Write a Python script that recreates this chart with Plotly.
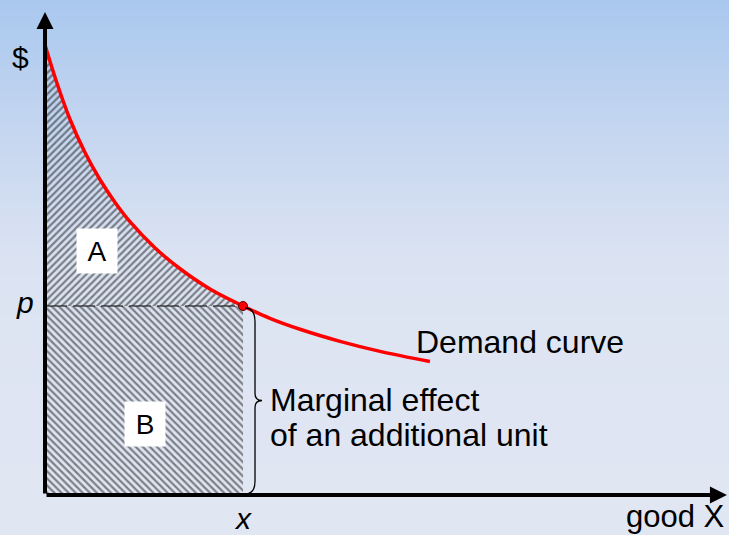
import plotly.graph_objects as go

# ---- data (quantity in units where x = 1, price in units where p = 1) ----
q_demand = [0.000, 0.061, 0.126, 0.202, 0.278, 0.354, 0.429, 0.556, 0.682,
            0.833, 1.000, 1.136, 1.288, 1.490, 1.692, 1.944]
p_demand = [2.381, 2.177, 1.988, 1.812, 1.668, 1.548, 1.446, 1.307, 1.197,
            1.090, 1.000, 0.935, 0.877, 0.813, 0.760, 0.706]
q_x = 1.0          # quantity x
p_price = 1.0      # price p
x_axis_end = 3.444
y_axis_end = 2.556

# axis ranges (origin placed at pixel 45, 495)
X_RANGE = [-0.2273, 3.4545]
Y_RANGE = [-0.2116, 2.6190]
W, H = 729, 535
sx = W / (X_RANGE[1] - X_RANGE[0])   # px per x unit
sy = H / (Y_RANGE[1] - Y_RANGE[0])   # px per y unit

FONT = "Liberation Sans, Arial, sans-serif"

fig = go.Figure()

# ---- area A ----
qa = [q for q in q_demand if q <= q_x]
pa = [p for q, p in zip(q_demand, p_demand) if q <= q_x]
fig.add_trace(go.Scatter(
    x=qa + [q_x, 0.0, 0.0], y=pa + [p_price, p_price, pa[0]],
    mode="lines", line=dict(width=0, color="rgba(0,0,0,0)"),
    fill="toself", fillcolor="rgba(0,0,0,0)",
    fillpattern=dict(shape="/", fgcolor="#1a1a1a", bgcolor="rgba(0,0,0,0)",
                     size=5, solidity=0.45),
    hoverinfo="skip", showlegend=False))

# ---- area B ----
fig.add_trace(go.Scatter(
    x=[0.0, q_x, q_x, 0.0, 0.0], y=[0.0, 0.0, p_price, p_price, 0.0],
    mode="lines", line=dict(width=0, color="rgba(0,0,0,0)"),
    fill="toself", fillcolor="rgba(0,0,0,0)",
    fillpattern=dict(shape="\\", fgcolor="#1a1a1a", bgcolor="rgba(0,0,0,0)",
                     size=5, solidity=0.45),
    hoverinfo="skip", showlegend=False))

# ---- dashed price line ----
fig.add_trace(go.Scatter(
    x=[0.0, q_x], y=[p_price, p_price], mode="lines",
    line=dict(color="black", width=1.2, dash="22px,6px"),
    hoverinfo="skip", showlegend=False))

# ---- demand curve ----
fig.add_trace(go.Scatter(
    x=q_demand, y=p_demand, mode="lines",
    line=dict(color="#ff0000", width=3.5, shape="spline", smoothing=1.0),
    hoverinfo="skip", showlegend=False))

# ---- point (x, p) ----
fig.add_trace(go.Scatter(
    x=[q_x], y=[p_price], mode="markers",
    marker=dict(color="#ff0000", size=9, line=dict(color="#5a0000", width=1)),
    hoverinfo="skip", showlegend=False))

# ---- background gradient bands ----
stops = [(0, (169, 200, 238)), (130, (197, 214, 240)), (260, (219, 227, 242)),
         (400, (223, 229, 242)), (535, (224, 230, 242))]


def col_at(y):
    for (y0, c0), (y1, c1) in zip(stops[:-1], stops[1:]):
        if y0 <= y <= y1:
            t = (y - y0) / (y1 - y0)
            return "rgb(%d,%d,%d)" % tuple(round(a + (b - a) * t) for a, b in zip(c0, c1))
    return "rgb(%d,%d,%d)" % stops[-1][1]


shapes = []
band = 5
for y in range(0, H, band):
    shapes.append(dict(type="rect", xref="paper", yref="paper", layer="below",
                       x0=0, x1=1, y0=1 - (y + band + 0.5) / H, y1=1 - y / H,
                       line=dict(width=0), fillcolor=col_at(y + band / 2)))

# ---- curly brace from p down to 0 at x ----
dx = lambda px: px / sx
dy = lambda px: px / sy
mid = p_price / 2
bx = q_x + dx(12)
path = (f"M {q_x + dx(2)},{p_price - dy(2)} "
        f"Q {bx},{p_price - dy(2)} {bx},{p_price - dy(16)} "
        f"L {bx},{mid + dy(7)} "
        f"Q {bx},{mid} {q_x + dx(19)},{mid} "
        f"Q {bx},{mid} {bx},{mid - dy(7)} "
        f"L {bx},{dy(14)} "
        f"Q {bx},{dy(1)} {q_x + dx(2)},{dy(1)}")
shapes.append(dict(type="path", xref="x", yref="y", path=path,
                   line=dict(color="black", width=1.3)))

annotations = [
    dict(x=x_axis_end, y=0, ax=0, ay=0, axref="x", ayref="y", xref="x", yref="y",
         text="", showarrow=True, arrowhead=2, arrowsize=0.85, arrowwidth=4,
         arrowcolor="black"),
    dict(x=0, y=y_axis_end, ax=0, ay=0, axref="x", ayref="y", xref="x", yref="y",
         text="", showarrow=True, arrowhead=2, arrowsize=0.85, arrowwidth=4,
         arrowcolor="black"),
    dict(x=-0.126, y=2.317, text="$", showarrow=False,
         font=dict(family=FONT, size=30, color="black")),
    dict(x=-0.101, y=1.02, text="<i>p</i>", showarrow=False,
         font=dict(family=FONT, size=30, color="black")),
    dict(x=q_x, y=-0.125, text="<i>x</i>", showarrow=False,
         font=dict(family=FONT, size=30, color="black")),
    dict(x=x_axis_end, y=-0.112, text="good X", showarrow=False, xanchor="right",
         font=dict(family=FONT, size=31, color="black")),
    dict(x=1.865, y=0.81, text="Demand curve", showarrow=False, xanchor="left",
         font=dict(family=FONT, size=32, color="black")),
    dict(x=1.126, y=0.503, text="Marginal effect", showarrow=False, xanchor="left",
         font=dict(family=FONT, size=32, color="black")),
    dict(x=1.126, y=0.317, text="of an additional unit", showarrow=False,
         xanchor="left", font=dict(family=FONT, size=32, color="black")),
    dict(x=0.263, y=1.29, text="A", showarrow=False, bgcolor="white",
         width=40, height=44, borderpad=0,
         font=dict(family=FONT, size=28, color="black")),
    dict(x=0.505, y=0.375, text="B", showarrow=False, bgcolor="white",
         width=40, height=44, borderpad=0,
         font=dict(family=FONT, size=28, color="black")),
]

fig.update_layout(
    width=W, height=H,
    margin=dict(l=0, r=0, t=0, b=0),
    paper_bgcolor="rgb(224,230,242)",
    plot_bgcolor="rgba(0,0,0,0)",
    xaxis=dict(range=X_RANGE, visible=False, fixedrange=True),
    yaxis=dict(range=Y_RANGE, visible=False, fixedrange=True),
    shapes=shapes,
    annotations=annotations,
    showlegend=False,
)

fig.write_html(
    "out.html",
    config={"displayModeBar": False},
    post_script=("document.body.style.margin='0';document.body.style.padding='0';"
                 "document.documentElement.style.overflow='hidden';"),
)
